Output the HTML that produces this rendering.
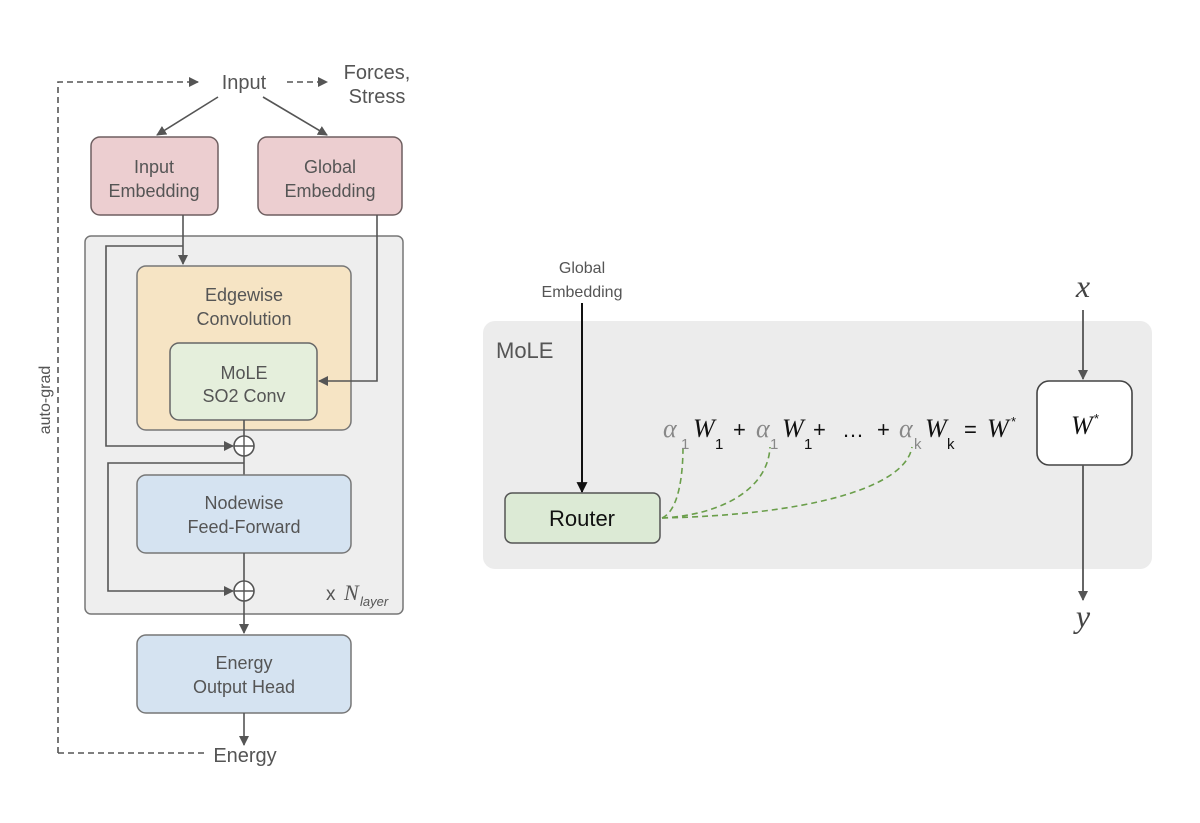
<!DOCTYPE html>
<html><head><meta charset="utf-8"><style>
html,body{margin:0;padding:0;background:#fff;}
svg{display:block;}
.s{font-family:"Liberation Sans",sans-serif;fill:#555;}
.m{font-family:"Liberation Serif",serif;font-style:italic;}
</style></head><body>
<svg width="1200" height="823" viewBox="0 0 1200 823" xmlns="http://www.w3.org/2000/svg">
<defs>
<marker id="a" viewBox="0 0 10 10" refX="9" refY="5" markerWidth="10" markerHeight="10" markerUnits="userSpaceOnUse" orient="auto"><path d="M0,0 L10,5 L0,10 z" fill="#555"/></marker>
<marker id="ab" viewBox="0 0 10 10" refX="9" refY="5" markerWidth="11" markerHeight="11" markerUnits="userSpaceOnUse" orient="auto"><path d="M0,0 L10,5 L0,10 z" fill="#111"/></marker>
</defs>
<path d="M58,753 V82 H198" fill="none" stroke="#555" stroke-width="1.6" stroke-dasharray="6,4" marker-end="url(#a)"/>
<path d="M58,753 H205" fill="none" stroke="#555" stroke-width="1.6" stroke-dasharray="6,4"/>
<path d="M287,82 H327" fill="none" stroke="#555" stroke-width="1.6" stroke-dasharray="6,4" marker-end="url(#a)"/>
<text class="s" x="244" y="89" font-size="20" text-anchor="middle">Input</text>
<text class="s" x="377" y="79" font-size="20" text-anchor="middle">Forces,</text>
<text class="s" x="377" y="103" font-size="20" text-anchor="middle">Stress</text>
<text class="s" transform="translate(50,400) rotate(-90)" font-size="16" text-anchor="middle">auto-grad</text>
<line x1="218" y1="97" x2="157" y2="135" stroke="#555" stroke-width="1.6" marker-end="url(#a)"/>
<line x1="263" y1="97" x2="327" y2="135" stroke="#555" stroke-width="1.6" marker-end="url(#a)"/>
<rect x="91" y="137" width="127" height="78" rx="9" fill="#ecced0" stroke="#6e5f60" stroke-width="1.5"/>
<text class="s" x="154" y="173" font-size="18" text-anchor="middle">Input</text>
<text class="s" x="154" y="197" font-size="18" text-anchor="middle">Embedding</text>
<rect x="258" y="137" width="144" height="78" rx="9" fill="#ecced0" stroke="#6e5f60" stroke-width="1.5"/>
<text class="s" x="330" y="173" font-size="18" text-anchor="middle">Global</text>
<text class="s" x="330" y="197" font-size="18" text-anchor="middle">Embedding</text>
<rect x="85" y="236" width="318" height="378" rx="6" fill="#eeeeee" stroke="#777" stroke-width="1.5"/>
<rect x="137" y="266" width="214" height="164" rx="9" fill="#f6e4c4" stroke="#777" stroke-width="1.5"/>
<text class="s" x="244" y="301" font-size="18" text-anchor="middle">Edgewise</text>
<text class="s" x="244" y="325" font-size="18" text-anchor="middle">Convolution</text>
<rect x="170" y="343" width="147" height="77" rx="9" fill="#e5efdc" stroke="#666" stroke-width="1.5"/>
<text class="s" x="244" y="379" font-size="18" text-anchor="middle">MoLE</text>
<text class="s" x="244" y="402" font-size="18" text-anchor="middle">SO2 Conv</text>
<line x1="183" y1="215" x2="183" y2="264" stroke="#555" stroke-width="1.6" marker-end="url(#a)"/>
<path d="M377,215 V381 H319" fill="none" stroke="#555" stroke-width="1.6" marker-end="url(#a)"/>
<path d="M183,246 H106 V446 H233" fill="none" stroke="#555" stroke-width="1.6" marker-end="url(#a)"/>
<line x1="244" y1="420" x2="244" y2="475" stroke="#555" stroke-width="1.6"/>
<circle cx="244" cy="446" r="10" fill="#fff" stroke="#555" stroke-width="1.6"/>
<path d="M234,446 H254 M244,436 V456" stroke="#555" stroke-width="1.4"/>
<path d="M244,463 H108 V591 H233" fill="none" stroke="#555" stroke-width="1.6" marker-end="url(#a)"/>
<rect x="137" y="475" width="214" height="78" rx="9" fill="#d5e3f1" stroke="#777" stroke-width="1.5"/>
<text class="s" x="244" y="509" font-size="18" text-anchor="middle">Nodewise</text>
<text class="s" x="244" y="533" font-size="18" text-anchor="middle">Feed-Forward</text>
<line x1="244" y1="553" x2="244" y2="633" stroke="#555" stroke-width="1.6" marker-end="url(#a)"/>
<circle cx="244" cy="591" r="10" fill="#fff" stroke="#555" stroke-width="1.6"/>
<path d="M234,591 H254 M244,581 V601" stroke="#555" stroke-width="1.4"/>
<text class="s" x="326" y="600" font-size="19" fill="#444">x</text>
<text class="m" x="344" y="600" font-size="22" fill="#555">N</text>
<text class="s" x="360" y="606" font-size="13" font-style="italic">layer</text>
<rect x="137" y="635" width="214" height="78" rx="9" fill="#d5e3f1" stroke="#777" stroke-width="1.5"/>
<text class="s" x="244" y="669" font-size="18" text-anchor="middle">Energy</text>
<text class="s" x="244" y="693" font-size="18" text-anchor="middle">Output Head</text>
<line x1="244" y1="713" x2="244" y2="745" stroke="#555" stroke-width="1.6" marker-end="url(#a)"/>
<text class="s" x="245" y="762" font-size="20" text-anchor="middle">Energy</text>

<rect x="483" y="321" width="669" height="248" rx="12" fill="#ececec"/>
<text class="s" x="582" y="273" font-size="16" text-anchor="middle">Global</text>
<text class="s" x="582" y="297" font-size="16" text-anchor="middle">Embedding</text>
<line x1="582" y1="303" x2="582" y2="492" stroke="#111" stroke-width="2" marker-end="url(#ab)"/>
<text class="s" x="496" y="358" font-size="22" fill="#666">MoLE</text>
<rect x="505" y="493" width="155" height="50" rx="7" fill="#dcead5" stroke="#555" stroke-width="1.5"/>
<text x="582" y="526" font-size="22" text-anchor="middle" font-family="Liberation Sans,sans-serif" fill="#111">Router</text>
<g fill="none" stroke="#6a9e4a" stroke-width="1.6" stroke-dasharray="6,4">
<path d="M662,518 C680,510 683,470 683,447"/>
<path d="M662,518 C720,515 768,490 770,447"/>
<path d="M662,518 C800,515 905,490 912,447"/>
</g>
<g font-size="26">
<text class="m" x="663" y="437" fill="#888">α</text>
<text x="681" y="449" font-size="15" font-family="Liberation Sans,sans-serif" fill="#888">1</text>
<text class="m" x="693" y="437" fill="#111">W</text>
<text x="715" y="449" font-size="15" font-family="Liberation Sans,sans-serif" fill="#111">1</text>
<text x="733" y="437" font-size="22" font-family="Liberation Sans,sans-serif" fill="#111">+</text>
<text class="m" x="756" y="437" fill="#888">α</text>
<text x="770" y="449" font-size="15" font-family="Liberation Sans,sans-serif" fill="#888">1</text>
<text class="m" x="782" y="437" fill="#111">W</text>
<text x="804" y="449" font-size="15" font-family="Liberation Sans,sans-serif" fill="#111">1</text>
<text x="813" y="437" font-size="22" font-family="Liberation Sans,sans-serif" fill="#111">+</text>
<text x="842" y="437" font-size="22" font-family="Liberation Sans,sans-serif" fill="#111">…</text>
<text x="877" y="437" font-size="22" font-family="Liberation Sans,sans-serif" fill="#111">+</text>
<text class="m" x="899" y="437" fill="#888">α</text>
<text x="914" y="449" font-size="15" font-family="Liberation Sans,sans-serif" fill="#888">k</text>
<text class="m" x="925" y="437" fill="#111">W</text>
<text x="947" y="449" font-size="15" font-family="Liberation Sans,sans-serif" fill="#111">k</text>
<text x="964" y="437" font-size="22" font-family="Liberation Sans,sans-serif" fill="#111">=</text>
<text class="m" x="987" y="437" fill="#111">W</text>
<text x="1011" y="426" font-size="13" font-family="Liberation Sans,sans-serif" fill="#111">*</text>
</g>
<line x1="1083" y1="310" x2="1083" y2="379" stroke="#555" stroke-width="1.8" marker-end="url(#a)"/>
<rect x="1037" y="381" width="95" height="84" rx="12" fill="#fff" stroke="#444" stroke-width="1.6"/>
<text class="m" x="1071" y="434" font-size="26" fill="#111">W</text>
<text x="1094" y="423" font-size="13" font-family="Liberation Sans,sans-serif" fill="#111">*</text>
<line x1="1083" y1="465" x2="1083" y2="600" stroke="#555" stroke-width="1.8" marker-end="url(#a)"/>
<text class="m" x="1083" y="297" font-size="32" text-anchor="middle" fill="#444">x</text>
<text class="m" x="1083" y="627" font-size="32" text-anchor="middle" fill="#444">y</text>
</svg>
</body></html>
